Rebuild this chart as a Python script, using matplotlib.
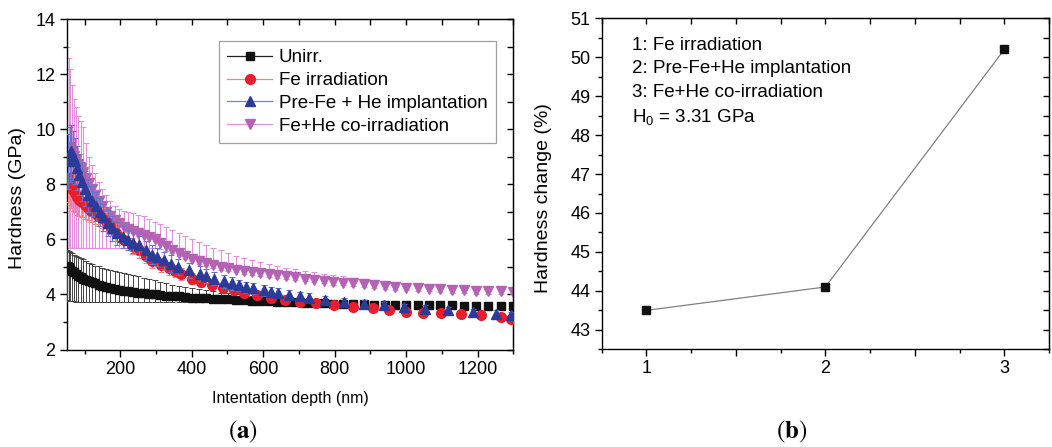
import numpy as np
import matplotlib
matplotlib.use('Agg')
import matplotlib.pyplot as plt
from matplotlib.lines import Line2D
from matplotlib.ticker import MultipleLocator, FuncFormatter

plt.rcParams['font.family'] = ['Liberation Sans', 'DejaVu Sans']
plt.rcParams['mathtext.fontset'] = 'custom'
plt.rcParams['mathtext.rm'] = 'Liberation Sans'
plt.rcParams['mathtext.it'] = 'Liberation Sans:italic'
plt.rcParams['mathtext.bf'] = 'Liberation Sans:bold'

# ---- panel (a): hardness vs indentation depth ----
depth_dense = [52, 56, 60, 65, 70, 76, 82, 89, 96, 104,
               112, 121, 130, 140, 150, 161, 172, 184, 196, 209,
               222, 236, 250, 265, 280, 296, 312, 329, 346, 364,
               382, 401, 420, 440, 460, 481, 502, 524, 546, 569,
               592, 616, 640, 665, 690, 716, 742, 769, 796, 824,
               852, 881, 910, 940, 970, 1001, 1032, 1064, 1096, 1129,
               1162, 1196, 1230, 1265, 1298]

unirr_h = [5.05, 5.00, 4.93, 4.86, 4.80, 4.74, 4.68, 4.62, 4.57, 4.52,
           4.48, 4.44, 4.40, 4.36, 4.32, 4.28, 4.24, 4.20, 4.17, 4.14,
           4.11, 4.08, 4.06, 4.04, 4.02, 4.00, 3.98, 3.96, 3.95, 3.93,
           3.91, 3.89, 3.88, 3.86, 3.84, 3.83, 3.82, 3.80, 3.79, 3.78,
           3.77, 3.76, 3.74, 3.73, 3.72, 3.70, 3.69, 3.68, 3.67, 3.66,
           3.65, 3.64, 3.63, 3.62, 3.62, 3.61, 3.61, 3.60, 3.60, 3.60,
           3.59, 3.59, 3.59, 3.59, 3.59]
unirr_upper = [5.60, 5.58, 5.55, 5.50, 5.45, 5.40, 5.36, 5.32, 5.28, 5.22,
               5.16, 5.10, 5.05, 5.02, 4.98, 4.94, 4.90, 4.86, 4.82, 4.78,
               4.74, 4.70, 4.66, 4.61, 4.56, 4.51, 4.46, 4.41, 4.36, 4.31,
               4.27, 4.23, 4.19, 4.15, 4.11, 4.07, 4.04, 4.01, 3.98, 3.95,
               3.92, 3.89, 3.86, 3.84, 3.82, 3.79, 3.77, 3.75, 3.73, 3.71,
               3.70, 3.69, 3.68, 3.67, 3.67, 3.66, 3.66, 3.65, 3.65, 3.65,
               3.64, 3.64, 3.64, 3.64, 3.64]
unirr_lower = [3.80, 3.78, 3.77, 3.76, 3.75, 3.74, 3.74, 3.74, 3.74, 3.74,
               3.74, 3.74, 3.74, 3.74, 3.74, 3.74, 3.74, 3.74, 3.74, 3.74,
               3.74, 3.74, 3.74, 3.74, 3.74, 3.74, 3.74, 3.74, 3.74, 3.74,
               3.74, 3.74, 3.74, 3.74, 3.74, 3.74, 3.74, 3.73, 3.72, 3.72,
               3.71, 3.70, 3.69, 3.68, 3.67, 3.65, 3.64, 3.63, 3.62, 3.61,
               3.60, 3.59, 3.58, 3.57, 3.57, 3.56, 3.56, 3.55, 3.55, 3.55,
               3.54, 3.54, 3.54, 3.54, 3.54]

coirr_h = [9.00, 9.30, 9.37, 9.20, 9.05, 8.90, 8.75, 8.60, 8.45, 8.25,
           8.05, 7.82, 7.60, 7.40, 7.20, 7.00, 6.85, 6.70, 6.58, 6.47,
           6.38, 6.30, 6.24, 6.17, 6.10, 6.00, 5.88, 5.75, 5.62, 5.50,
           5.40, 5.30, 5.21, 5.13, 5.06, 5.00, 4.95, 4.90, 4.86, 4.82,
           4.78, 4.74, 4.70, 4.66, 4.62, 4.58, 4.54, 4.50, 4.46, 4.43,
           4.40, 4.37, 4.34, 4.31, 4.28, 4.25, 4.23, 4.21, 4.19, 4.17,
           4.15, 4.13, 4.12, 4.11, 4.10]
coirr_upper = [13.0, 12.6, 12.2, 11.6, 11.1, 10.8, 10.5, 10.3, 10.1, 9.50,
               9.00, 8.70, 8.40, 8.10, 7.85, 7.60, 7.40, 7.20, 7.10, 7.05,
               7.00, 6.95, 6.90, 6.85, 6.75, 6.65, 6.55, 6.45, 6.35, 6.25,
               6.14, 6.03, 5.92, 5.81, 5.70, 5.60, 5.50, 5.41, 5.33, 5.25,
               5.17, 5.10, 5.03, 4.97, 4.91, 4.86, 4.81, 4.76, 4.71, 4.66,
               4.61, 4.56, 4.51, 4.47, 4.43, 4.40, 4.37, 4.34, 4.31, 4.28,
               4.26, 4.24, 4.22, 4.21, 4.20]
coirr_lower = [5.70, 5.70, 5.70, 5.70, 5.70, 5.70, 5.70, 5.70, 5.70, 5.70,
               5.70, 5.70, 5.70, 5.70, 5.70, 5.70, 5.70, 5.70, 5.70, 5.70,
               5.70, 5.70, 5.70, 5.70, 5.70, 5.68, 5.64, 5.58, 5.50, 5.40,
               5.30, 5.20, 5.11, 5.03, 4.96, 4.90, 4.85, 4.80, 4.76, 4.72,
               4.68, 4.64, 4.60, 4.56, 4.52, 4.48, 4.44, 4.40, 4.36, 4.33,
               4.30, 4.27, 4.24, 4.21, 4.18, 4.15, 4.13, 4.11, 4.09, 4.07,
               4.05, 4.03, 4.02, 4.01, 4.00]

fe_depth = [54, 58, 62, 67, 72, 78, 85, 92, 100, 109,
            118, 128, 138, 149, 160, 172, 187, 210, 234, 252,
            271, 290, 313, 336, 352, 371, 402, 426, 456, 487,
            517, 547, 582, 622, 662, 702, 747, 797, 852, 906,
            951, 999, 1047, 1099, 1153, 1209, 1265, 1295]
fe_h = [8.25, 8.10, 7.95, 7.80, 7.68, 7.55, 7.45, 7.35, 7.25, 7.15,
        7.05, 6.95, 6.87, 6.78, 6.66, 6.50, 6.25, 5.98, 5.76, 5.60,
        5.40, 5.23, 5.07, 4.95, 4.85, 4.75, 4.58, 4.46, 4.34, 4.25,
        4.15, 4.05, 3.97, 3.88, 3.80, 3.73, 3.68, 3.62, 3.56, 3.50,
        3.44, 3.38, 3.34, 3.32, 3.28, 3.24, 3.18, 3.12]
fe_err = [0.90, 0.85, 0.80, 0.75, 0.70, 0.65, 0.60, 0.55, 0.50, 0.45,
          0.42, 0.40, 0.38, 0.36, 0.34, 0.32, 0.30, 0.28, 0.28, 0.27,
          0.26, 0.25, 0.24, 0.23, 0.22, 0.21, 0.20, 0.19, 0.18, 0.17,
          0.16, 0.15, 0.14, 0.14, 0.13, 0.13, 0.12, 0.12, 0.12, 0.12,
          0.11, 0.11, 0.11, 0.10, 0.10, 0.10, 0.10, 0.10]

pre_depth = [54, 58, 62, 67, 72, 78, 85, 92, 100, 110,
             120, 131, 142, 153, 165, 178, 192, 208, 222, 236,
             252, 271, 290, 302, 321, 342, 362, 392, 422, 441,
             462, 490, 512, 532, 552, 572, 602, 622, 642, 672,
             702, 727, 772, 827, 881, 938, 993, 1052, 1116, 1187,
             1251, 1293]
pre_h = [8.85, 9.10, 9.20, 9.05, 8.85, 8.60, 8.35, 8.10, 7.85, 7.60,
         7.40, 7.20, 7.00, 6.80, 6.60, 6.40, 6.22, 6.08, 5.98, 5.88,
         5.78, 5.60, 5.45, 5.36, 5.24, 5.12, 5.00, 4.88, 4.76, 4.67,
         4.58, 4.48, 4.40, 4.33, 4.27, 4.22, 4.15, 4.10, 4.05, 3.98,
         3.93, 3.88, 3.81, 3.73, 3.67, 3.60, 3.54, 3.48, 3.42, 3.36,
         3.30, 3.26]
pre_err = [1.00, 1.00, 0.95, 0.90, 0.85, 0.80, 0.75, 0.70, 0.65, 0.60,
           0.55, 0.52, 0.50, 0.48, 0.46, 0.44, 0.42, 0.40, 0.38, 0.36,
           0.35, 0.34, 0.33, 0.33, 0.32, 0.32, 0.30, 0.28, 0.26, 0.25,
           0.24, 0.23, 0.22, 0.21, 0.20, 0.20, 0.19, 0.18, 0.18, 0.17,
           0.17, 0.16, 0.15, 0.15, 0.14, 0.14, 0.13, 0.13, 0.12, 0.12,
           0.12, 0.12]

legend_labels = ['Unirr.', 'Fe irradiation', 'Pre-Fe + He implantation',
                 'Fe+He co-irradiation']

# ---- panel (b): hardness change ----
case_ids = [1, 2, 3]
hardness_change = [43.5, 44.1, 50.2]
notes = ['1: Fe irradiation', '2: Pre-Fe+He implantation',
         '3: Fe+He co-irradiation', 'H$_0$ = 3.31 GPa']


def style_ticks(ax, xmaj, xmin, ymaj, ymin):
    ax.xaxis.set_major_locator(MultipleLocator(xmaj))
    ax.xaxis.set_minor_locator(MultipleLocator(xmin))
    ax.yaxis.set_major_locator(MultipleLocator(ymaj))
    ax.yaxis.set_minor_locator(MultipleLocator(ymin))
    ax.tick_params(which='major', direction='out', length=5, width=1,
                   labelsize=13, pad=3)
    ax.tick_params(which='minor', direction='out', length=3, width=1)
    for s in ax.spines.values():
        s.set_linewidth(1.0)
    # inward ticks on top and right, no labels
    top = ax.secondary_xaxis('top')
    top.xaxis.set_major_locator(MultipleLocator(xmin))
    top.tick_params(direction='in', length=4, width=1, labeltop=False)
    right = ax.secondary_yaxis('right')
    right.yaxis.set_major_locator(MultipleLocator(ymin))
    right.tick_params(direction='in', length=4, width=1, labelright=False)


fig = plt.figure(figsize=(10.52, 4.47), dpi=100)
ax1 = fig.add_axes([0.0634, 0.2181, 0.4245, 0.7387])
ax2 = fig.add_axes([0.5720, 0.2186, 0.4252, 0.7405])

x = np.array(depth_dense)
h = np.array(coirr_h)
ax1.errorbar(x, h, yerr=[h - np.array(coirr_lower), np.array(coirr_upper) - h],
             fmt='v', ms=7.2, color='#b463b4', mec='#b463b4', ecolor='#e38fdc',
             elinewidth=0.8, capsize=2.5, capthick=0.8, zorder=2)
h = np.array(unirr_h)
ax1.errorbar(x, h, yerr=[h - np.array(unirr_lower), np.array(unirr_upper) - h],
             fmt='s', ms=5.6, color='#111111', ecolor='#444444',
             elinewidth=0.7, capsize=2.5, capthick=0.7, zorder=3)
ax1.errorbar(fe_depth, fe_h, yerr=fe_err, fmt='o', ms=7, color='#ea1d2c',
             ecolor='#f2808a', elinewidth=0.8, capsize=2.5, capthick=0.8, zorder=4)
ax1.errorbar(pre_depth, pre_h, yerr=pre_err, fmt='^', ms=7.2, color='#2d3b98',
             ecolor='#6b73c8', elinewidth=0.8, capsize=2.5, capthick=0.8, zorder=5)

ax1.set_xlim(50, 1300)
ax1.set_ylim(2, 14)
style_ticks(ax1, 200, 100, 2, 1)
ax1.set_xlabel('Intentation depth (nm)', fontsize=11.5)
ax1.xaxis.set_label_coords(0.5, -0.125)
ax1.set_ylabel('Hardness (GPa)', fontsize=14)
ax1.yaxis.set_label_coords(-0.092, 0.46)

handles = [
    Line2D([0], [0], color='#222222', lw=0.9, marker='s', ms=5.6, mfc='#111111', mec='#111111'),
    Line2D([0], [0], color='#f0848c', lw=0.9, marker='o', ms=7, mfc='#ea1d2c', mec='#ea1d2c'),
    Line2D([0], [0], color='#7c82cc', lw=0.9, marker='^', ms=7.2, mfc='#2d3b98', mec='#2d3b98'),
    Line2D([0], [0], color='#e592dc', lw=0.9, marker='v', ms=7.2, mfc='#b463b4', mec='#b463b4'),
]
leg = ax1.legend(handles, legend_labels, loc='upper right', bbox_to_anchor=(0.961, 0.935),
                 fontsize=13.5, frameon=True, fancybox=False, edgecolor='#888888',
                 handlelength=2.4, handletextpad=0.35, labelspacing=0.3,
                 borderpad=0.45, borderaxespad=0)
leg.get_frame().set_linewidth(0.9)

# panel (b)
ax2.plot(case_ids, hardness_change, color='#808080', lw=0.9, marker='s', ms=5.8,
         mfc='#111111', mec='#111111')
ax2.set_xlim(0.75, 3.25)
ax2.set_ylim(42.5, 51)
style_ticks(ax2, 0.5, 0.25, 1, 0.5)
ax2.xaxis.set_major_formatter(FuncFormatter(lambda v, p: '%d' % v if abs(v - round(v)) < 1e-6 else ''))
ax2.set_ylabel('Hardness change (%)', fontsize=14)
ax2.yaxis.set_label_coords(-0.111, 0.456)
for i, note in enumerate(notes):
    ax2.text(0.067, 0.919 - i * 0.072, note, transform=ax2.transAxes,
             fontsize=13.5, va='center', ha='left')

fig.text(0.231, 0.034, r'$(\mathbf{a})$', math_fontfamily='stix', fontsize=18,
         ha='center', va='center')
fig.text(0.753, 0.034, r'$(\mathbf{b})$', math_fontfamily='stix', fontsize=18,
         ha='center', va='center')

fig.savefig('out.png', dpi=100)
